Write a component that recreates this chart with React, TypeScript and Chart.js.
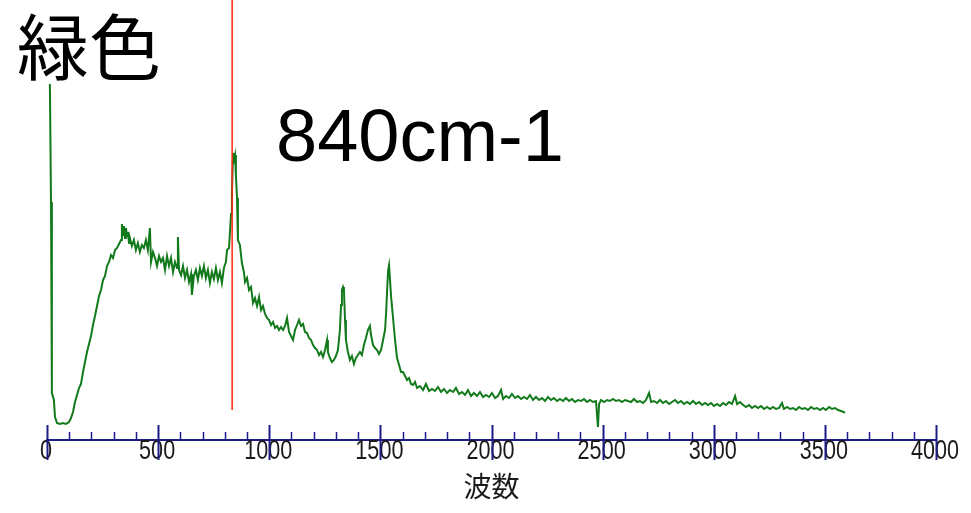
import React, { useEffect, useRef } from 'react';
import { Chart, registerables } from 'chart.js';

Chart.register(...registerables);

const TITLE = '緑色';
const PEAK_LABEL = '840cm-1';
const AXIS_TITLE = '波数';
const PEAK_MARK = 833;
const PEAK_LINE_BOTTOM = 30;
const X_MIN = 0;
const X_MAX = 4000;
const Y_MAX = 440;
const X_TICKS = [0, 500, 1000, 1500, 2000, 2500, 3000, 3500, 4000];
const MINOR_STEP = 100;

const wavenumbers = [
  13, 18, 22, 31, 36, 45, 58, 72, 85, 99, 108, 117, 126, 135, 144, 153, 162, 171, 180, 189,
  198, 207, 216, 225, 234, 243, 252, 261, 270, 279, 288, 297, 306, 315, 324, 333, 337, 342, 346, 351,
  355, 360, 364, 369, 373, 382, 391, 400, 409, 418, 427, 436, 445, 454, 463, 468, 477, 486, 495, 504,
  513, 522, 531, 540, 549, 558, 567, 576, 585, 589, 594, 603, 612, 621, 630, 639, 648, 652, 661, 670,
  679, 688, 697, 706, 715, 724, 733, 742, 751, 760, 769, 778, 787, 796, 805, 810, 819, 828, 832, 837,
  841, 846, 850, 855, 859, 868, 877, 886, 891, 900, 909, 918, 927, 936, 945, 954, 963, 972, 981, 990,
  999, 1008, 1017, 1026, 1035, 1044, 1053, 1062, 1071, 1080, 1089, 1098, 1107, 1116, 1125, 1134, 1143, 1152, 1161, 1170,
  1179, 1188, 1197, 1206, 1215, 1224, 1233, 1242, 1251, 1260, 1264, 1273, 1282, 1291, 1300, 1309, 1318, 1323, 1327, 1332,
  1336, 1341, 1345, 1354, 1363, 1372, 1381, 1390, 1399, 1408, 1417, 1426, 1435, 1444, 1453, 1458, 1467, 1476, 1485, 1494,
  1503, 1512, 1521, 1526, 1530, 1535, 1539, 1544, 1548, 1557, 1566, 1575, 1584, 1593, 1602, 1611, 1620, 1629, 1638, 1647,
  1656, 1665, 1678, 1692, 1705, 1719, 1732, 1746, 1759, 1773, 1786, 1800, 1813, 1827, 1840, 1854, 1867, 1881, 1894, 1908,
  1921, 1935, 1948, 1962, 1975, 1989, 2002, 2016, 2029, 2043, 2052, 2065, 2079, 2092, 2106, 2119, 2133, 2146, 2160, 2173,
  2187, 2200, 2214, 2227, 2241, 2254, 2268, 2281, 2295, 2308, 2322, 2335, 2349, 2362, 2376, 2389, 2403, 2416, 2430, 2443,
  2457, 2470, 2479, 2484, 2493, 2506, 2520, 2533, 2547, 2560, 2574, 2587, 2601, 2614, 2628, 2641, 2655, 2668, 2682, 2695,
  2709, 2718, 2731, 2745, 2758, 2772, 2785, 2799, 2812, 2826, 2839, 2853, 2866, 2880, 2893, 2907, 2920, 2934, 2947, 2961,
  2974, 2988, 3001, 3015, 3028, 3042, 3055, 3069, 3082, 3096, 3105, 3118, 3132, 3145, 3159, 3172, 3186, 3199, 3213, 3226,
  3240, 3253, 3267, 3280, 3294, 3307, 3316, 3330, 3343, 3357, 3370, 3384, 3397, 3411, 3424, 3438, 3451, 3465, 3478, 3492,
  3505, 3519, 3532, 3546, 3559, 3573, 3586, 3590,
];

const intensity = [
  356, 238, 47, 40, 23, 17, 16, 17, 16, 18, 22, 28, 38, 45, 52, 56, 68, 78, 88, 96,
  104, 115, 124, 134, 144, 150, 160, 164, 174, 178, 185, 182, 190, 192, 196, 200, 216, 205, 214, 202,
  212, 204, 208, 197, 202, 194, 200, 190, 197, 188, 195, 192, 200, 190, 212, 178, 188, 182, 174, 184,
  178, 182, 170, 184, 174, 182, 168, 178, 172, 203, 170, 165, 174, 162, 170, 158, 166, 145, 164, 170,
  160, 172, 164, 174, 162, 170, 157, 168, 161, 172, 160, 168, 157, 172, 178, 190, 192, 226, 245, 287,
  280, 285, 265, 242, 200, 195, 177, 168, 158, 162, 150, 153, 137, 142, 134, 143, 130, 134, 126, 122,
  120, 115, 118, 112, 114, 110, 113, 110, 114, 122, 108, 104, 100, 110, 115, 120, 114, 116, 108, 107,
  102, 100, 95, 92, 90, 85, 88, 83, 90, 100, 88, 82, 78, 80, 84, 90, 110, 135, 150, 153,
  150, 120, 100, 88, 80, 84, 76, 82, 85, 88, 85, 95, 102, 110, 114, 105, 95, 92, 90, 86,
  90, 100, 110, 128, 148, 170, 175, 158, 144, 122, 100, 82, 75, 68, 68, 64, 60, 62, 56, 55,
  58, 52, 54, 50, 56, 49, 51, 49, 53, 48, 51, 47, 50, 48, 52, 46, 48, 45, 50, 44,
  47, 44, 48, 43, 45, 43, 47, 42, 44, 50, 41, 44, 42, 46, 42, 44, 41, 43, 41, 45,
  40, 43, 40, 42, 39, 43, 40, 42, 39, 41, 39, 42, 39, 41, 38, 40, 39, 41, 38, 40,
  38, 39, 13, 36, 40, 38, 40, 39, 41, 39, 40, 38, 40, 39, 38, 41, 38, 39, 37, 40,
  47, 38, 39, 37, 40, 37, 39, 36, 38, 40, 37, 39, 36, 38, 36, 39, 36, 38, 35, 37,
  35, 37, 34, 36, 34, 37, 35, 38, 36, 44, 36, 38, 35, 33, 35, 32, 34, 32, 34, 31,
  33, 31, 33, 31, 32, 37, 31, 33, 31, 32, 30, 33, 31, 32, 30, 33, 31, 32, 30, 32,
  30, 33, 31, 32, 30, 29, 28, 27,
];

const overlayPlugin = {
  id: 'overlay',
  afterDatasetsDraw(chart: any) {
    const { ctx, scales } = chart;
    const x = scales.x;
    const y = scales.y;
    ctx.save();
    const px = x.getPixelForValue(PEAK_MARK);
    ctx.strokeStyle = '#ff2a10';
    ctx.lineWidth = 1.5;
    ctx.beginPath();
    ctx.moveTo(px, 0);
    ctx.lineTo(px, y.getPixelForValue(PEAK_LINE_BOTTOM));
    ctx.stroke();
    ctx.restore();
  },
  afterDraw(chart: any) {
    const { ctx, scales } = chart;
    const x = scales.x;
    const base = x.top;
    ctx.save();
    // tick labels (narrow)
    ctx.fillStyle = '#1a1a1a';
    ctx.font = '27px "Liberation Sans", Arial, sans-serif';
    ctx.textAlign = 'center';
    ctx.textBaseline = 'middle';
    X_TICKS.forEach((v) => {
      const p = x.getPixelForValue(v);
      ctx.save();
      ctx.translate(p - 1, base + 12);
      ctx.scale(0.8, 1);
      ctx.fillText(String(v), 0, 0);
      ctx.restore();
    });
    // tick marks
    ctx.strokeStyle = '#1c1c84';
    for (let v = X_MIN; v <= X_MAX; v += MINOR_STEP) {
      const p = Math.round(x.getPixelForValue(v)) + 0.5;
      const major = v % 500 === 0;
      ctx.lineWidth = major ? 2 : 1.5;
      ctx.beginPath();
      ctx.moveTo(p, major ? base - 15 : base - 8);
      ctx.lineTo(p, major ? base + 20 : base);
      ctx.stroke();
    }
    ctx.fillStyle = '#000';
    ctx.textBaseline = 'alphabetic';
    ctx.textAlign = 'left';
    ctx.font = '72px "Noto Sans CJK JP", sans-serif';
    ctx.fillText(TITLE, 17, 74);
    ctx.font = '74px "Liberation Sans", Arial, sans-serif';
    ctx.fillText(PEAK_LABEL, 276, 161);
    ctx.restore();
  },
};

export default function App() {
  const ref = useRef<HTMLCanvasElement | null>(null);
  useEffect(() => {
    if (!ref.current) return;
    const data = wavenumbers.map((w, i) => ({ x: w, y: intensity[i] }));
    const chart = new Chart(ref.current, {
      type: 'line',
      data: {
        datasets: [
          {
            data,
            borderColor: '#137a1c',
            borderWidth: 2,
            pointRadius: 0,
            tension: 0,
            fill: false,
          },
        ],
      },
      options: {
        animation: false,
        responsive: true,
        maintainAspectRatio: false,
        layout: { padding: { left: 47, right: 35, top: 0, bottom: 0 } },
        plugins: { legend: { display: false }, tooltip: { enabled: false }, title: { display: false } },
        scales: {
          x: {
            type: 'linear',
            min: X_MIN,
            max: X_MAX,
            afterBuildTicks: (scale: any) => {
              scale.ticks = X_TICKS.map((v) => ({ value: v }));
            },
            grid: { display: true, drawOnChartArea: false, drawTicks: false },
            border: { display: true, color: '#1c1c84', width: 2 },
            ticks: { display: false },
            title: {
              display: true,
              text: AXIS_TITLE,
              color: '#1a1a1a',
              font: { family: '"Noto Sans CJK JP", sans-serif', size: 28, lineHeight: 1 },
              padding: { top: 32.5, bottom: 12.5 },
            },
          },
          y: { display: false, min: 0, max: Y_MAX },
        },
      },
      plugins: [overlayPlugin],
    });
    return () => chart.destroy();
  }, []);
  return (
    <div style={{ position: 'fixed', left: 0, top: 0, width: 971, height: 513, background: '#fff' }}>
      <canvas ref={ref} />
    </div>
  );
}
